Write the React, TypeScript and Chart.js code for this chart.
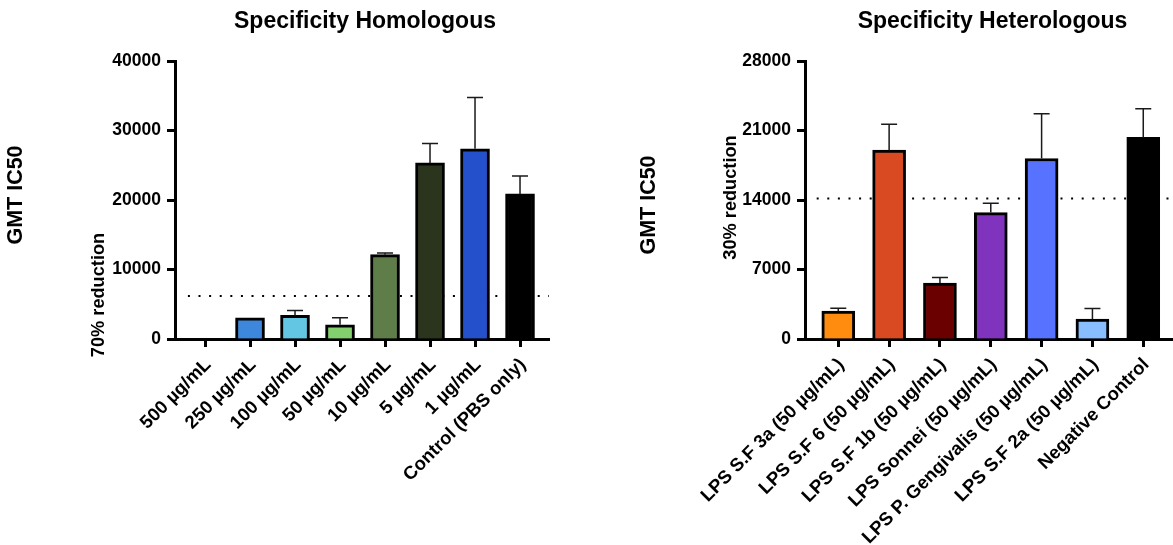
import React, { useEffect, useRef } from 'react';
import { Chart, registerables } from 'chart.js';

Chart.register(...registerables);

// ---------- Data ----------
const homoCategories = ['500 µg/mL', '250 µg/mL', '100 µg/mL', '50 µg/mL', '10 µg/mL', '5 µg/mL', '1 µg/mL', 'Control (PBS only)'];
const homoValues = [0, 3050, 3390, 2050, 12140, 25340, 27360, 20870];
const homoErrors = [null, null, 720, 1000, 230, 2800, 7400, 2600];
const homoColors = ['#ffffff', '#3d88dc', '#63c7e3', '#82d06e', '#5e7d48', '#2b341c', '#2550cc', '#000000'];
const homoYTicks = [0, 10000, 20000, 30000, 40000];
const homoThreshold = 6200;

const heteroCategories = ['LPS S.F 3a (50 µg/mL)', 'LPS S.F 6 (50 µg/mL)', 'LPS S.F 1b (50 µg/mL)', 'LPS Sonnei (50 µg/mL)', 'LPS P. Gengivalis (50 µg/mL)', 'LPS S.F 2a (50 µg/mL)', 'Negative Control'];
const heteroValues = [2800, 19020, 5630, 12730, 18180, 2000, 20300];
const heteroErrors = [300, 2620, 575, 940, 4500, 1080, 2890];
const heteroColors = ['#ff8c0f', '#da4a22', '#6b0000', '#8034bd', '#5672ff', '#88bdff', '#000000'];
const heteroYTicks = [0, 7000, 14000, 21000, 28000];
const heteroThreshold = 14150;

const FONT = "'Liberation Sans', Arial, Helvetica, sans-serif";

type PanelProps = {
  left: number;
  width: number;
  categories: string[];
  values: number[];
  errors: (number | null)[];
  colors: string[];
  yTicks: number[];
  threshold: number;
  thresholdStart: number;
  xMin: number;
  xMax: number;
  yWidth: number;
  padRight: number;
  barThickness: number;
  title: string;
  titleX: number;
  gmtX: number;
  gmtY: number;
  redText: string;
  redX: number;
  redY: number;
};

const errorBarPlugin = {
  id: 'errbars',
  afterDatasetsDraw(chart: any, _args: any, opts: any) {
    const { ctx } = chart;
    const x = chart.scales.x;
    const y = chart.scales.y;
    const values: number[] = opts.values;
    const errors: (number | null)[] = opts.errors;
    ctx.save();
    ctx.strokeStyle = '#1a1a1a';
    ctx.lineWidth = 1.5;
    values.forEach((v, i) => {
      const e = errors[i];
      if (e == null) return;
      const px = x.getPixelForValue(i);
      const y0 = y.getPixelForValue(v);
      const y1 = y.getPixelForValue(v + e);
      ctx.beginPath();
      ctx.moveTo(px, y0);
      ctx.lineTo(px, y1);
      ctx.moveTo(px - opts.cap, y1);
      ctx.lineTo(px + opts.cap, y1);
      ctx.stroke();
    });
    ctx.restore();
  },
};

const textPlugin = {
  id: 'texts',
  afterDraw(chart: any, _args: any, opts: any) {
    const { ctx } = chart;
    ctx.save();
    ctx.fillStyle = '#000';
    ctx.font = `bold 23px ${FONT}`;
    ctx.textAlign = 'center';
    ctx.textBaseline = 'alphabetic';
    ctx.fillText(opts.title, opts.titleX, 28);
    ctx.save();
    ctx.translate(opts.gmtX, opts.gmtY);
    ctx.rotate(-Math.PI / 2);
    ctx.font = `bold 21.5px ${FONT}`;
    ctx.fillText('GMT IC50', 0, 0);
    ctx.restore();
    ctx.save();
    ctx.translate(opts.redX, opts.redY);
    ctx.rotate(-Math.PI / 2);
    ctx.font = `bold 18.2px ${FONT}`;
    ctx.fillText(opts.redText, 0, 0);
    ctx.restore();
    ctx.restore();
  },
};

function BarPanel(p: PanelProps) {
  const ref = useRef<HTMLCanvasElement | null>(null);
  useEffect(() => {
    if (!ref.current) return;
    const yFont = { family: FONT, size: 17.5, weight: 'bold' as const };
    const xFont = { family: FONT, size: 18.5, weight: 'bold' as const };
    const chart = new Chart(ref.current, {
      type: 'bar',
      data: {
        datasets: [
          {
            type: 'bar',
            data: p.values.map((v, i) => ({ x: i, y: v })),
            backgroundColor: p.colors,
            borderColor: '#000',
            borderWidth: 3,
            borderSkipped: 'start',
            barThickness: p.barThickness,
            order: 1,
          } as any,
          {
            type: 'line',
            data: [
              { x: p.thresholdStart, y: p.threshold },
              { x: p.xMax, y: p.threshold },
            ],
            borderColor: '#000',
            borderWidth: 2,
            borderDash: [2, 8.6],
            pointRadius: 0,
            fill: false,
            order: 2,
          } as any,
        ],
      },
      plugins: [errorBarPlugin, textPlugin],
      options: {
        responsive: false,
        animation: false,
        events: [],
        layout: { padding: { left: 0, right: p.padRight, top: 61, bottom: 0 } },
        plugins: {
          legend: { display: false },
          tooltip: { enabled: false },
          title: { display: false },
          errbars: { values: p.values, errors: p.errors, cap: 8 },
          texts: {
            title: p.title,
            titleX: p.titleX,
            gmtX: p.gmtX,
            gmtY: p.gmtY,
            redText: p.redText,
            redX: p.redX,
            redY: p.redY,
          },
        } as any,
        scales: {
          x: {
            type: 'linear',
            offset: false,
            min: p.xMin,
            max: p.xMax,
            afterBuildTicks: (scale: any) => {
              scale.ticks = p.categories.map((_, i) => ({ value: i }));
            },
            afterFit: (scale: any) => {
              scale.height = 206;
              scale.paddingLeft = 0;
              scale.paddingRight = 0;
            },
            grid: {
              display: true,
              offset: false,
              drawOnChartArea: false,
              drawTicks: true,
              tickLength: 8,
              tickWidth: 3,
              tickColor: '#000',
            },
            border: { display: true, width: 3, color: '#000' },
            ticks: {
              autoSkip: false,
              minRotation: 45,
              maxRotation: 45,
              padding: 7,
              labelOffset: 3,
              color: '#000',
              font: xFont,
              callback: (v: any) => p.categories[Math.round(Number(v))] ?? '',
            },
          },
          y: {
            type: 'linear',
            min: 0,
            max: p.yTicks[p.yTicks.length - 1],
            afterBuildTicks: (scale: any) => {
              scale.ticks = p.yTicks.map((v) => ({ value: v }));
            },
            afterFit: (scale: any) => {
              scale.width = p.yWidth;
            },
            grid: {
              display: true,
              drawOnChartArea: false,
              drawTicks: true,
              tickLength: 8,
              tickWidth: 3,
              tickColor: '#000',
            },
            border: { display: true, width: 3, color: '#000' },
            ticks: {
              padding: 6,
              color: '#000',
              font: yFont,
              callback: (v: any) => String(v),
            },
          },
        },
      } as any,
    });
    return () => chart.destroy();
  }, []);
  return (
    <canvas
      ref={ref}
      width={p.width}
      height={545}
      style={{ position: 'absolute', left: p.left, top: 0, width: p.width, height: 545, display: 'block' }}
    />
  );
}

export default function App() {
  return (
    <div style={{ position: 'absolute', left: 0, top: 0, width: 1173, height: 545, background: '#fff', overflow: 'hidden' }}>
      <BarPanel
        left={0}
        width={586}
        categories={homoCategories}
        values={homoValues}
        errors={homoErrors}
        colors={homoColors}
        yTicks={homoYTicks}
        threshold={homoThreshold}
        thresholdStart={-0.38}
        xMin={-0.667}
        xMax={7.644}
        yWidth={175}
        padRight={37}
        barThickness={29}
        title="Specificity Homologous"
        titleX={365}
        gmtX={22}
        gmtY={195}
        redText="70% reduction"
        redX={103.5}
        redY={295}
      />
      <BarPanel
        left={586}
        width={587}
        categories={heteroCategories}
        values={heteroValues}
        errors={heteroErrors}
        colors={heteroColors}
        yTicks={heteroYTicks}
        threshold={heteroThreshold}
        thresholdStart={-0.425}
        xMin={-0.655}
        xMax={6.585}
        yWidth={219}
        padRight={0}
        barThickness={33}
        title="Specificity Heterologous"
        titleX={406.5}
        gmtX={68.5}
        gmtY={205}
        redText="30% reduction"
        redX={149.5}
        redY={197.5}
      />
    </div>
  );
}
